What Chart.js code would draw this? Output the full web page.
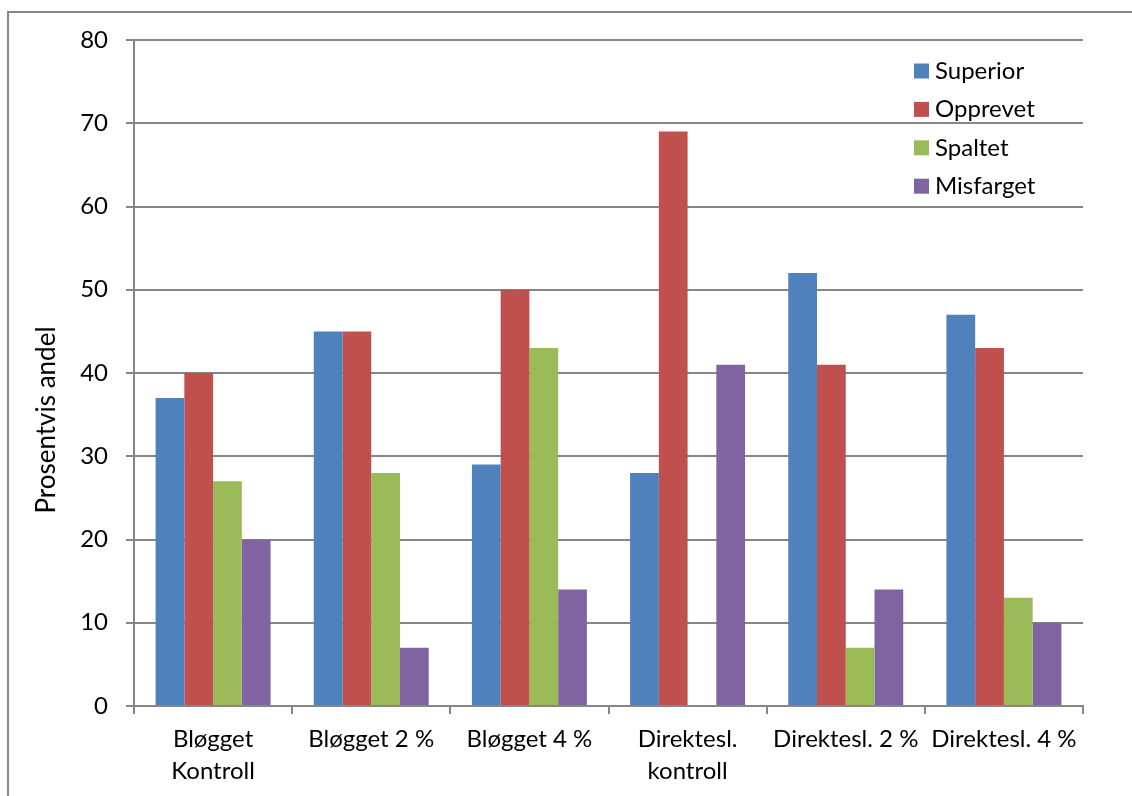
<!DOCTYPE html>
<html>
<head>
<meta charset="utf-8">
<script src="https://cdn.jsdelivr.net/npm/chart.js@4.4.1/dist/chart.umd.min.js"></script>
<style>
  html, body { margin: 0; padding: 0; background: #fff; }
  #wrap { position: relative; width: 1132px; height: 796px; }
</style>
</head>
<body>
<div id="wrap"><canvas id="c" width="1132" height="796"></canvas></div>
<script>
const categories = [["Bløgget", "Kontroll"], "Bløgget 2 %", "Bløgget 4 %", ["Direktesl.", "kontroll"], "Direktesl. 2 %", "Direktesl. 4 %"];
const superior  = [37, 45, 29, 28, 52, 47];
const opprevet  = [40, 45, 50, 69, 41, 43];
const spaltet   = [27, 28, 43, null, 7, 13];
const misfarget = [20, 7, 14, 41, 14, 10];
const seriesNames = ["Superior", "Opprevet", "Spaltet", "Misfarget"];
const seriesColors = ["#4F81BD", "#C0504D", "#9BBB59", "#8064A2"];
const yTicks = [0, 10, 20, 30, 40, 50, 60, 70, 80];
const yTitle = "Prosentvis andel";

const FONT = "Lato, 'Open Sans', sans-serif";
const GRID = "#868686";

// Outer frame plus the rotated axis title, which sits a little below the plot's middle
const framePlugin = {
  id: 'frame',
  beforeDraw(chart) {
    const ctx = chart.ctx;
    ctx.save();
    ctx.strokeStyle = GRID;
    ctx.lineWidth = 2;
    ctx.beginPath();
    ctx.moveTo(8, 800);
    ctx.lineTo(8, 12);
    ctx.lineTo(1132, 12);
    ctx.stroke();
    ctx.restore();
  },
  afterDraw(chart) {
    const ctx = chart.ctx;
    ctx.save();
    ctx.translate(47, 420);
    ctx.rotate(-Math.PI / 2);
    ctx.font = "26px " + FONT;
    ctx.fillStyle = '#000';
    ctx.textAlign = 'center';
    ctx.textBaseline = 'middle';
    ctx.fillText(yTitle, 0, 0);
    ctx.restore();
  }
};

// Legend drawn inside the upper right of the plot area
const legendPlugin = {
  id: 'insideLegend',
  afterDraw(chart) {
    const ctx = chart.ctx;
    const area = chart.chartArea;
    const x0 = area.right - 169;
    const y0 = area.top + 31;
    ctx.save();
    ctx.font = "24px " + FONT;
    ctx.textBaseline = 'middle';
    ctx.textAlign = 'left';
    chart.data.datasets.forEach((ds, i) => {
      const cy = y0 + i * 38.4;
      ctx.fillStyle = ds.backgroundColor;
      ctx.fillRect(x0, cy - 7.5, 15, 15);
      ctx.fillStyle = '#000';
      ctx.fillText(ds.label, x0 + 21, cy);
    });
    ctx.restore();
  }
};

const values = [superior, opprevet, spaltet, misfarget];

new Chart(document.getElementById('c'), {
  type: 'bar',
  data: {
    labels: categories,
    datasets: seriesNames.map((name, i) => ({
      label: name,
      data: values[i],
      backgroundColor: seriesColors[i],
      borderWidth: 0,
      categoryPercentage: 0.727,
      barPercentage: 1.0
    }))
  },
  options: {
    responsive: false,
    animation: false,
    devicePixelRatio: 1,
    layout: { padding: { left: 0, top: 40, right: 49, bottom: 0 } },
    plugins: {
      legend: { display: false },
      tooltip: { enabled: false }
    },
    scales: {
      x: {
        grid: {
          offset: true,
          drawOnChartArea: false,
          drawTicks: true,
          tickLength: 8,
          color: GRID,
          lineWidth: 2
        },
        border: { color: GRID, width: 2 },
        ticks: {
          color: '#000',
          font: { family: FONT, size: 24, lineHeight: 1.3 },
          padding: 10,
          maxRotation: 0,
          autoSkip: false
        },
        afterFit(scale) { scale.height = 90; }
      },
      y: {
        min: 0,
        max: 80,
        afterBuildTicks(scale) { scale.ticks = yTicks.map(v => ({ value: v })); },
        grid: {
          color: GRID,
          lineWidth: 2,
          drawTicks: true,
          tickLength: 8
        },
        border: { color: GRID, width: 2 },
        ticks: {
          color: '#000',
          font: { family: FONT, size: 24 },
          padding: 18
        },
        afterFit(scale) { scale.width = 134; }
      }
    }
  },
  plugins: [framePlugin, legendPlugin]
});
</script>
</body>
</html>
